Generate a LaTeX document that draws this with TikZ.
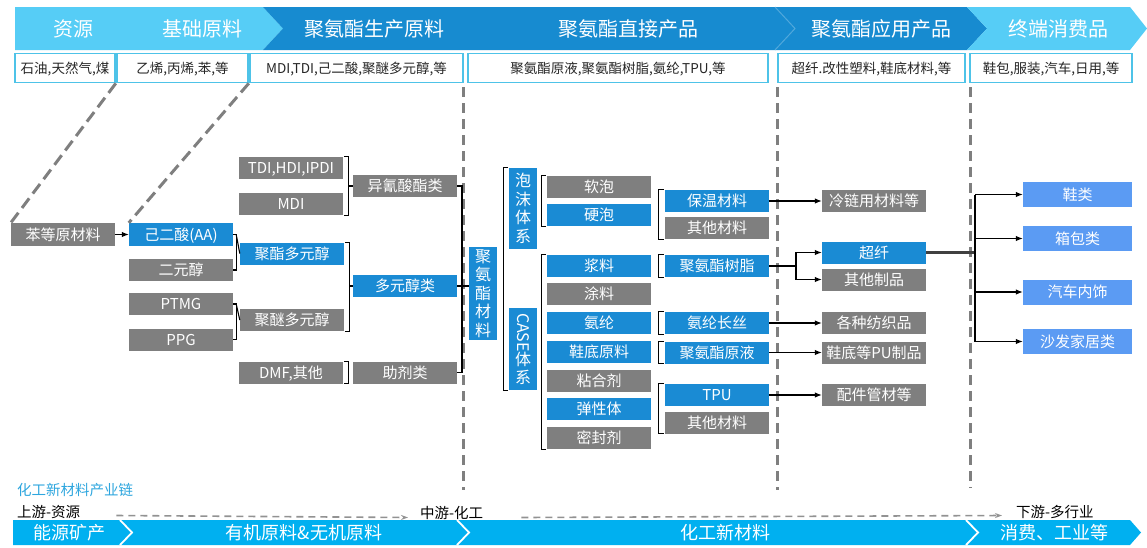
\documentclass[tikz,border=0pt]{standalone}
\usepackage{fontspec}
\usepackage{graphicx}
\setmainfont{Noto Sans CJK SC}
\usetikzlibrary{arrows.meta,calc}
\definecolor{gry}{HTML}{7F7F7F}
\definecolor{nblue}{HTML}{1A8BD4}
\definecolor{hdark}{HTML}{178BD0}
\definecolor{hlight}{HTML}{56CDF6}
\definecolor{bandc}{HTML}{00B0F0}
\definecolor{rblue}{HTML}{5B9BF3}
\definecolor{cyanb}{HTML}{4EC3E8}
\definecolor{captc}{HTML}{2EA6DE}
\newcommand{\fsz}[1]{\fontsize{#1}{#1}\selectfont}
\begin{document}
\begin{tikzpicture}[x=1pt,y=-1pt,
  box/.style={inner sep=0pt, minimum width=104pt, minimum height=22pt, text=white,
    font=\fsz{15}, text height=13.2pt, text depth=1.8pt},
  gb/.style={box, fill=gry},
  bb/.style={box, fill=nblue},
  rb/.style={box, fill=rblue, minimum width=109pt, minimum height=25pt},
  vb/.style={inner sep=0pt, fill=nblue, text=white, minimum width=28pt,
    font=\fontsize{16}{18.5}\selectfont, align=center},
  rtwo/.style={draw=cyanb, line width=1.6pt, fill=white, inner sep=0pt, minimum height=29pt,
    font=\fsz{13.5}, text height=11.9pt, text depth=1.6pt, text=black!85},
  htxt/.style={text=white, font=\fsz{20}, inner sep=0pt, text height=17.6pt, text depth=2.4pt},
  btxt/.style={text=white, font=\fsz{18}, inner sep=0pt, text height=15.8pt, text depth=2.2pt},
  vdash/.style={gry, line width=3pt, dash pattern=on 10pt off 6pt},
  ddash/.style={gry, line width=3pt, dash pattern=on 12pt off 6pt},
  brk/.style={black, line width=1.1pt},
  arr/.style={black, line width=1.1pt, -{Latex[length=7pt,width=5.5pt]}},
  flow/.style={gry!85, line width=1.6pt, dash pattern=on 7pt off 5pt, -{Stealth[length=7pt,width=5pt]}},
  lbl/.style={inner sep=0pt, anchor=west, font=\fsz{14.5}, text height=12.8pt, text depth=1.7pt}
]
\useasboundingbox (0,0) rectangle (1147,547);

% ---------- header band ----------
\fill[hlight] (15,7) -- (263,7) -- (283,28.5) -- (263,50) -- (15,50) -- cycle;
\fill[hdark] (263,7) -- (967,7) -- (987,28.5) -- (967,50) -- (263,50) -- (283,28.5) -- cycle;
\fill[hlight] (967,7) -- (1130,7) -- (1147,28.5) -- (1130,50) -- (967,50) -- (987,28.5) -- cycle;
\draw[white!25!hdark, line width=1pt] (775,7) -- (795,28.5) -- (775,50);
\node[htxt] (h1) at (73,29) {资源};
\node[htxt] (h2) at (202,29) {基础原料};
\node[htxt] (h3) at (374,29) {聚氨酯生产原料};
\node[htxt] (h4) at (628,29) {聚氨酯直接产品};
\node[htxt] (h5) at (881,29) {聚氨酯应用产品};
\node[htxt] (h6) at (1058,29) {终端消费品};

% ---------- second row ----------
\node[rtwo, minimum width=100pt] (r1) at (65,68) {石油,天然气,煤};
\node[rtwo, minimum width=131pt] (r2) at (182.5,68) {乙烯,丙烯,苯,等};
\node[rtwo, minimum width=213pt] (r3) at (356.5,68) {MDI,TDI,己二酸,聚醚多元醇,等};
\node[rtwo, minimum width=300pt] (r4) at (618,68) {聚氨酯原液,聚氨酯树脂,氨纶,TPU,等};
\node[rtwo, minimum width=187pt] (r5) at (871.5,68) {超纤.改性塑料,鞋底材料,等};
\node[rtwo, minimum width=162pt] (r6) at (1051,68) {鞋包,服装,汽车,日用,等};

% ---------- dashed guide lines ----------
\draw[vdash] (463,87) -- (463,490);
\draw[vdash] (777,87) -- (777,490);
\draw[vdash] (970,87) -- (970,488);

% ---------- left part ----------
\node[gb, minimum height=23pt] (bd) at (63,234.5) {苯等原材料};
\node[bb, minimum height=23pt] (aa) at (181,234.5) {己二酸(AA)};
\node[gb] (ey) at (181,270) {二元醇};
\node[gb] (ptmg) at (181,304) {PTMG};
\node[gb] (ppg) at (181,339.5) {PPG};
\node[gb] (tdi) at (291,168) {TDI,HDI,IPDI};
\node[gb] (mdi) at (291,204) {MDI};
\node[bb] (pe) at (292,253.5) {聚酯多元醇};
\node[gb] (pet) at (292,320) {聚醚多元醇};
\node[gb] (dmf) at (291,372.5) {DMF,其他};
\node[gb] (iso) at (405,186) {异氰酸酯类};
\node[bb] (pol) at (405,286) {多元醇类};
\node[gb] (aux) at (405,372.5) {助剂类};
\node[vb, minimum height=93pt] (pu) at (483,293.5) {聚\\氨\\酯\\材\\料};

\draw[ddash] (r1.south east) -- (bd.north west);
\draw[ddash] (r2.south east) -- (aa.north west);

\draw[arr] (bd.east) -- (aa.west);
% brackets column 1
\draw[brk] (aa.east) -- ++(3,0) |- (ey.east);
\draw[brk] ($(aa.east)+(3,0)$ |- pe.west) -- (pe.west);
\draw[brk] (ptmg.east) -- ++(3,0) |- (ppg.east);
\draw[brk] ($(ptmg.east)+(3,0)$ |- pet.west) -- (pet.west);
% brackets column 2
\draw[brk] ([xshift=1pt]tdi.north east) -- ++(4,0) |- ([xshift=1pt]mdi.south east);
\draw[brk] ([xshift=5pt]tdi.north east |- iso.west) -- (iso.west);
\draw[brk] ([xshift=1pt]pe.north east) -- ++(4,0) |- ([xshift=1pt]pet.south east);
\draw[brk] ([xshift=5pt]pe.north east |- pol.west) -- (pol.west);
\draw[brk] ([xshift=1pt]dmf.north east) -- ++(4,0) |- ([xshift=1pt]dmf.south east);
% big bracket
\coordinate (bx) at (462,0);
\draw[brk] (iso.east) -- (iso.east -| bx) -- (aux.east -| bx) -- (aux.east);
\draw[brk] (pol.east) -- (pol.east -| pu.west);

% ---------- middle part ----------
\node[vb, minimum height=81pt] (pm) at (523,208.5) {泡\\沫\\体\\系};
\node[vb, minimum height=82pt] (cs) at (523,349) {\rotatebox{-90}{CASE}\\[-1pt]体\\系};
\draw[brk] ([xshift=-1pt]pm.north west) -- ++(-4,0) |- ([xshift=-1pt]cs.south west);

\node[gb] (rp) at (599,187) {软泡};
\node[bb] (yp) at (599,215) {硬泡};
\node[bb] (jl) at (599,266) {浆料};
\node[gb] (tl) at (599,294) {涂料};
\node[bb] (al) at (599,322.5) {氨纶};
\node[bb] (xd) at (599,352) {鞋底原料};
\node[gb] (nh) at (599,381) {粘合剂};
\node[bb] (tx) at (599,409) {弹性体};
\node[gb] (mf) at (599,438) {密封剂};
\draw[brk] ([xshift=-1pt]rp.north west) -- ++(-4,0) |- ([xshift=-1pt]yp.south west);
\draw[brk] ([xshift=-1pt]jl.north west) -- ++(-4,0) |- ([xshift=-1pt]mf.south west);

\node[bb] (bw) at (717,201) {保温材料};
\node[gb] (qt1) at (717,228) {其他材料};
\node[bb] (shz) at (717,266) {聚氨酯树脂};
\node[bb] (acs) at (717,323) {氨纶长丝};
\node[bb] (yy) at (717,352.5) {聚氨酯原液};
\node[bb] (tpu) at (717,395) {TPU};
\node[gb] (qt2) at (717,422.5) {其他材料};
\draw[brk] ([xshift=-1pt]bw.north west) -- ++(-5,0) |- ([xshift=-1pt]qt1.south west);
\draw[brk] ([xshift=-1pt]shz.north west) -- ++(-5,0) |- ([xshift=-1pt]shz.south west);
\draw[brk] ([xshift=-1pt]acs.north west) -- ++(-5,0) |- ([xshift=-1pt]acs.south west);
\draw[brk] ([xshift=-1pt]yy.north west) -- ++(-5,0) |- ([xshift=-1pt]yy.south west);
\draw[brk] ([xshift=-1pt]tpu.north west) -- ++(-5,0) |- ([xshift=-1pt]qt2.south west);

% ---------- application products ----------
\node[gb] (ll) at (874,201) {冷链用材料等};
\node[bb] (cx) at (874,252.5) {超纤};
\node[gb] (qz) at (874,279.5) {其他制品};
\node[gb] (fz) at (874,323) {各种纺织品};
\node[gb] (pu2) at (874,352.5) {鞋底等PU制品};
\node[gb] (pj) at (874,395) {配件管材等};

\draw[arr] (bw.east) -- (ll.west);
\coordinate (br) at (796,266);
\draw[brk] (shz.east) -- (br);
\draw[arr] (br) |- (cx.west);
\draw[arr] (br) |- (qz.west);
\draw[arr] (acs.east) -- (fz.west);
\draw[arr] (yy.east) -- (pu2.west);
\draw[arr] (tpu.east) -- (pj.west);

% ---------- end consumer ----------
\node[rb] (xl) at (1077.5,194.5) {鞋类};
\node[rb] (xb) at (1077.5,238.5) {箱包类};
\node[rb] (qc) at (1077.5,292) {汽车内饰};
\node[rb] (sf) at (1077.5,341.5) {沙发家居类};
\coordinate (bus) at (975,0);
\draw[black!75, line width=2.2pt] (cx.east) -- (cx.east -| bus);
\draw[brk] (bus |- xl.west) -- (bus |- sf.west);
\draw[arr] (bus |- xl.west) -- (xl.west);
\draw[arr] (bus |- xb.west) -- (xb.west);
\draw[arr] (bus |- qc.west) -- (qc.west);
\draw[arr] (bus |- sf.west) -- (sf.west);

% ---------- bottom ----------
\node[lbl, text=captc] (cap) at (17,490) {化工新材料产业链};
\node[lbl] (up) at (17,512) {上游-资源};
\node[lbl] (mid) at (420,513) {中游-化工};
\node[lbl] (down) at (1016,512) {下游-多行业};
\draw[flow] ([xshift=36pt,yshift=-3.5pt]up.east) -- ([xshift=-12pt,yshift=-4.5pt]mid.west);
\draw[flow] ([xshift=38pt,yshift=-4.5pt]mid.east) -- ([xshift=-14pt,yshift=-3.5pt]down.west);

\fill[bandc] (13,520) -- (1130,520) -- (1141,532.5) -- (1130,545) -- (13,545) -- cycle;
\draw[white, line width=1.8pt] (120,520) -- (132,532.5) -- (120,545);
\draw[white, line width=1.8pt] (457,520) -- (469,532.5) -- (457,545);
\draw[white, line width=1.8pt] (966,520) -- (978,532.5) -- (966,545);
\node[btxt] (b1) at (69,533) {能源矿产};
\node[btxt] (b2) at (304,533) {有机原料\&无机原料};
\node[btxt] (b3) at (725,533) {化工新材料};
\node[btxt] (b4) at (1054,533) {消费、工业等};
\end{tikzpicture}
\end{document}
